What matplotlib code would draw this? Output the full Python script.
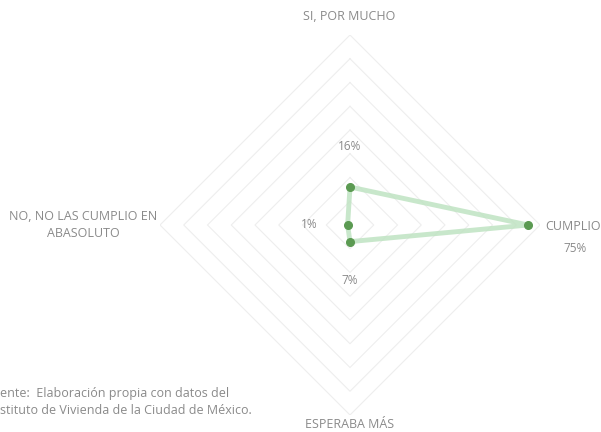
import numpy as np
import matplotlib.pyplot as plt

# categories in clockwise order starting at the top
categories = ['SI, POR MUCHO', 'CUMPLIO', 'ESPERABA MÁS', 'NO, NO LAS CUMPLIO EN\nABASOLUTO']
values = [0.16, 0.75, 0.07, 0.01]
value_labels = ['16%', '75%', '7%', '1%']
rings = [0.1, 0.2, 0.3, 0.4, 0.5, 0.6, 0.7, 0.8]

gray = '#8a8a8a'
line_green = '#bfe3c2'
dot_green = '#5b9a52'

fig = plt.figure(figsize=(6.01, 4.32), dpi=100)
ax = fig.add_axes([160 / 601, 17 / 432, 380 / 601, 380 / 432], projection='polar')
ax.set_theta_zero_location('N')
ax.set_theta_direction(-1)
ax.set_ylim(0, 0.8)
ax.grid(False)
ax.set_xticks([])
ax.set_yticks([])
ax.spines['polar'].set_visible(False)

theta = np.linspace(0, 2 * np.pi, len(categories), endpoint=False)
theta_closed = np.append(theta, theta[0])

# diamond grid
for r in rings:
    ax.plot(theta_closed, [r] * len(theta_closed), color='#eeeeee', lw=0.8, zorder=1)

vals_closed = values + values[:1]
ax.plot(theta_closed, vals_closed, color=line_green, lw=3.5, alpha=0.85, zorder=2)
ax.plot(theta, values, 'o', color=dot_green, ms=5.5, zorder=3)

# data labels
offsets = [(0, 29), (34, -17), (0, -28), (-28, 0)]
for t, v, lab, off in zip(theta, values, value_labels, offsets):
    ax.annotate(lab, (t, v), xytext=off, textcoords='offset points',
                ha='center', va='center', fontsize=8.5, color=gray,
                family='Open Sans')

# category labels
fig.text(349 / 601, 1 - 17 / 432, categories[0], ha='center', va='center',
         fontsize=9, color=gray, family='Open Sans')
fig.text(545 / 601, 1 - 226 / 432, categories[1], ha='left', va='center',
         fontsize=9, color=gray, family='Open Sans')
fig.text(350 / 601, 1 - 424 / 432, categories[2], ha='center', va='center',
         fontsize=9, color=gray, family='Open Sans')
fig.text(83 / 601, 1 - 225 / 432, categories[3], ha='center', va='center',
         fontsize=9, color=gray, family='Open Sans', linespacing=1.4)

# source note (cut off at the left edge in the original)
fig.text(0, 1 - 393 / 432, 'ente:  Elaboración propia con datos del', ha='left', va='center',
         fontsize=9, color=gray, family='Open Sans')
fig.text(0, 1 - 411 / 432, 'stituto de Vivienda de la Ciudad de México.', ha='left', va='center',
         fontsize=9, color=gray, family='Open Sans')

fig.savefig('out.png', dpi=100)
